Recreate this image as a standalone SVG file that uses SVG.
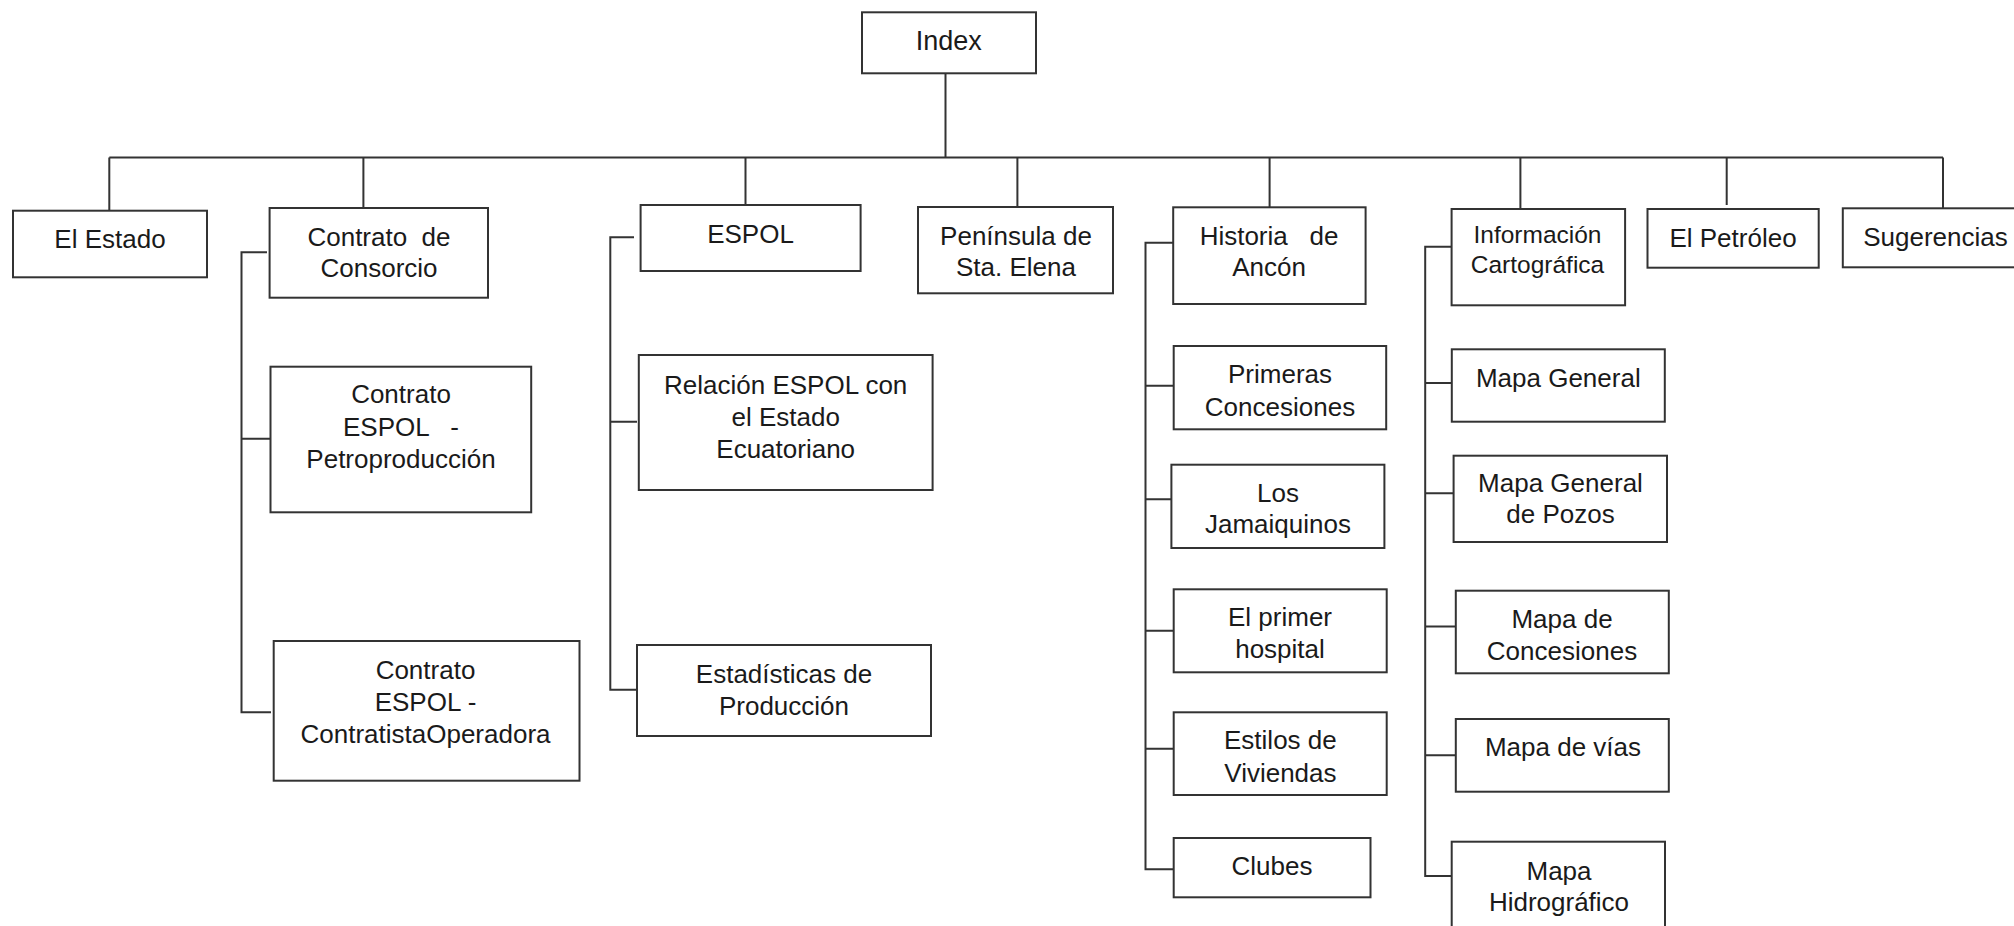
<svg xmlns="http://www.w3.org/2000/svg" width="2014" height="926" viewBox="0 0 2014 926">
<style>
.box{fill:#fff;stroke:#333;stroke-width:2}
.ln{fill:none;stroke:#333;stroke-width:2}
text{font-family:"Liberation Sans",Arial,sans-serif;font-size:26px;fill:#1a1a1a;text-anchor:middle}
</style>
<rect width="2014" height="926" fill="#fff"/>
<g id="connectors" class="ln">
<path d="M945.5 73 V157.5 M109.3 157.5 H1943"/>
<path d="M109.3 157.5 V210.7 M363.4 157.5 V208 M745.5 157.5 V205 M1017.4 157.5 V207 M1269.6 157.5 V207.3 M1520.4 157.5 V209 M1726.7 157.5 V205 M1943 157.5 V208.3"/>
<path d="M267 252.3 H241.5 V712.3 H271 M241.5 438.7 H270.5"/>
<path d="M634 237.3 H610.3 V689.7 H637 M610.3 421.7 H637"/>
<path d="M1173 242.7 H1145.5 V869.3 H1173.7 M1145.5 385.7 H1173.7 M1145.5 499.3 H1171.4 M1145.5 630.7 H1173.7 M1145.5 748.7 H1173.7"/>
<path d="M1451.6 246.7 H1425.2 V876 H1451.7 M1425.2 383 H1451.8 M1425.2 493.3 H1453.6 M1425.2 626.5 H1455.8 M1425.2 755.3 H1455.8"/>
</g>
<g id="index"><rect class="box" x="862" y="12.3" width="174" height="61"/><text x="948.7" y="50" style="font-size:27px">Index</text></g>
<g id="el-estado"><rect class="box" x="13" y="210.7" width="194" height="66.6"/><text x="110" y="248.3">El Estado</text></g>
<g id="contrato-consorcio"><rect class="box" x="269.6" y="208" width="218.4" height="89.7"/><text x="379" y="246" xml:space="preserve">Contrato  de</text><text x="379" y="277.3">Consorcio</text></g>
<g id="espol"><rect class="box" x="640.6" y="205" width="220" height="66"/><text x="750.5" y="242.7">ESPOL</text></g>
<g id="peninsula"><rect class="box" x="918" y="207" width="195" height="86.3"/><text x="1016" y="245">Península de</text><text x="1016" y="276">Sta. Elena</text></g>
<g id="historia-ancon"><rect class="box" x="1173.2" y="207.3" width="192.4" height="96.7"/><text x="1269" y="245" xml:space="preserve">Historia   de</text><text x="1269" y="276">Ancón</text></g>
<g id="info-cartografica"><rect class="box" x="1451.6" y="209" width="173.5" height="96.3"/><text x="1537.5" y="243.3" style="font-size:24.5px">Información</text><text x="1537.5" y="273.3" style="font-size:24.5px">Cartográfica</text></g>
<g id="el-petroleo"><rect class="box" x="1647.5" y="209" width="171.2" height="58.7"/><text x="1733" y="246.7">El Petróleo</text></g>
<g id="sugerencias"><rect class="box" x="1842.8" y="208.3" width="190" height="59"/><text x="1935.5" y="246">Sugerencias</text></g>
<g id="contrato-petroproduccion"><rect class="box" x="270.5" y="366.7" width="260.7" height="145.6"/><text x="401" y="403.3">Contrato</text><text x="401" y="436" xml:space="preserve">ESPOL   -</text><text x="401" y="468">Petroproducción</text></g>
<g id="contrato-contratista"><rect class="box" x="273.7" y="641" width="305.8" height="139.7"/><text x="425.5" y="679">Contrato</text><text x="425.5" y="710.7">ESPOL -</text><text x="425.5" y="742.7">ContratistaOperadora</text></g>
<g id="relacion-espol"><rect class="box" x="638.8" y="355" width="293.8" height="135"/><text x="785.7" y="394">Relación ESPOL con</text><text x="785.7" y="426">el Estado</text><text x="785.7" y="458.3">Ecuatoriano</text></g>
<g id="estadisticas"><rect class="box" x="637" y="645" width="294" height="91"/><text x="784" y="682.7">Estadísticas de</text><text x="784" y="715">Producción</text></g>
<g id="primeras-concesiones"><rect class="box" x="1173.7" y="346" width="212.5" height="83.3"/><text x="1280" y="383.3">Primeras</text><text x="1280" y="416">Concesiones</text></g>
<g id="jamaiquinos"><rect class="box" x="1171.4" y="464.7" width="213" height="83.3"/><text x="1278" y="501.7">Los</text><text x="1278" y="533.3">Jamaiquinos</text></g>
<g id="primer-hospital"><rect class="box" x="1173.7" y="589.3" width="213" height="83"/><text x="1280" y="626">El primer</text><text x="1280" y="658.3">hospital</text></g>
<g id="estilos-viviendas"><rect class="box" x="1173.7" y="712.3" width="213" height="82.7"/><text x="1280.4" y="749.3">Estilos de</text><text x="1280.4" y="781.7">Viviendas</text></g>
<g id="clubes"><rect class="box" x="1173.7" y="838" width="196.8" height="59.3"/><text x="1272" y="875">Clubes</text></g>
<g id="mapa-general"><rect class="box" x="1451.8" y="349.3" width="213" height="72.4"/><text x="1558.3" y="386.7">Mapa General</text></g>
<g id="mapa-pozos"><rect class="box" x="1453.6" y="455.7" width="213.4" height="86.3"/><text x="1560.5" y="491.7">Mapa General</text><text x="1560.5" y="523.3">de Pozos</text></g>
<g id="mapa-concesiones"><rect class="box" x="1455.8" y="590.7" width="213" height="82.6"/><text x="1562" y="628.3">Mapa de</text><text x="1562" y="660">Concesiones</text></g>
<g id="mapa-vias"><rect class="box" x="1455.8" y="719" width="213" height="72.7"/><text x="1563" y="756">Mapa de vías</text></g>
<g id="mapa-hidrografico"><rect class="box" x="1451.7" y="841.7" width="213.3" height="100"/><text x="1559" y="880">Mapa</text><text x="1559" y="910.7">Hidrográfico</text></g>
</svg>
